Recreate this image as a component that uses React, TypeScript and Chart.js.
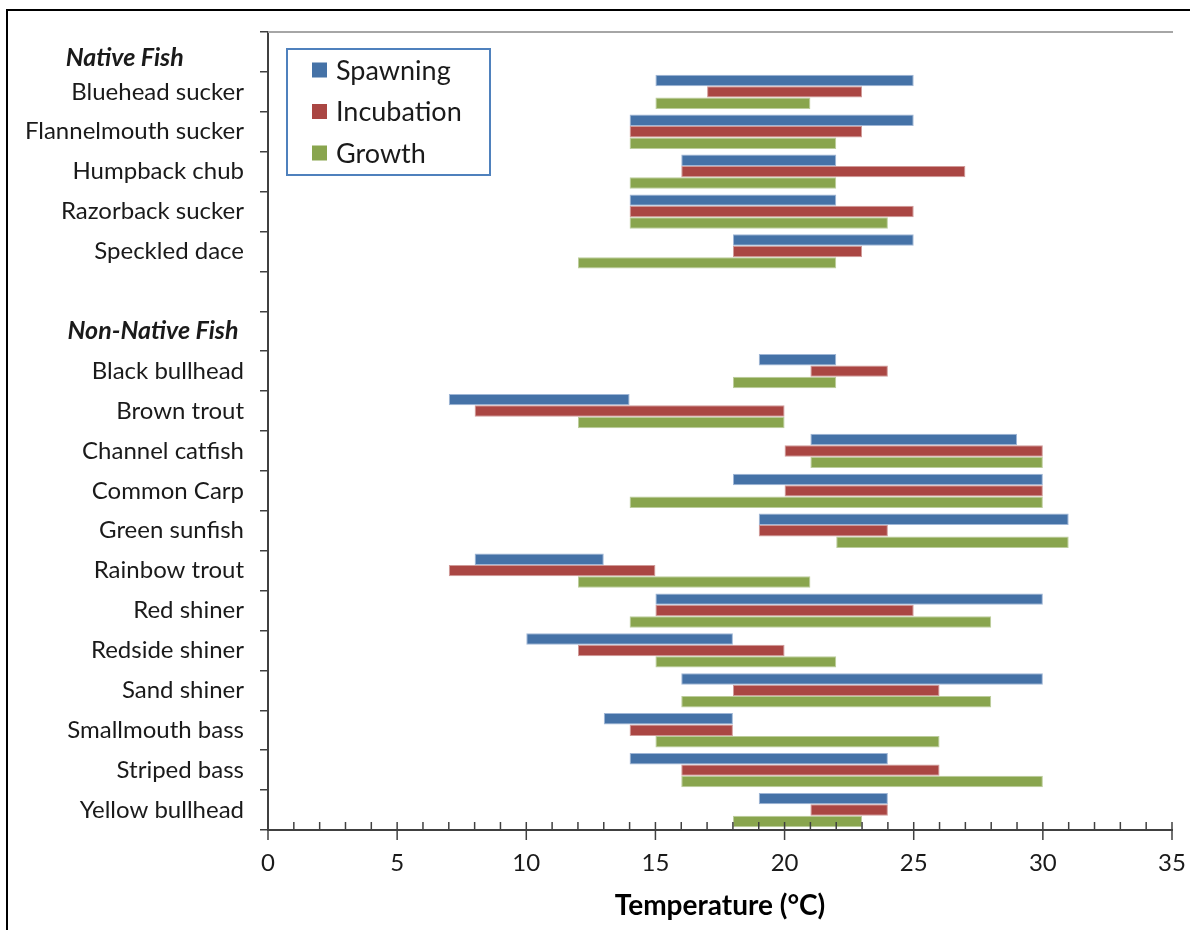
import React, { useEffect, useRef } from 'react';
import { Chart, registerables } from 'chart.js';

Chart.register(...registerables);

type Range = [number, number] | null;

const categories: string[] = [
  'Native Fish',
  'Bluehead sucker',
  'Flannelmouth sucker',
  'Humpback chub',
  'Razorback sucker',
  'Speckled dace',
  '',
  'Non-Native Fish',
  'Black bullhead',
  'Brown trout',
  'Channel catfish',
  'Common Carp',
  'Green sunfish',
  'Rainbow trout',
  'Red shiner',
  'Redside shiner',
  'Sand shiner',
  'Smallmouth bass',
  'Striped bass',
  'Yellow bullhead',
];

const headerRows: string[] = ['Native Fish', 'Non-Native Fish'];

const spawning: Range[] = [
  null, [15, 25], [14, 25], [16, 22], [14, 22], [18, 25], null,
  null, [19, 22], [7, 14], [21, 29], [18, 30], [19, 31], [8, 13], [15, 30], [10, 18], [16, 30], [13, 18], [14, 24], [19, 24],
];
const incubation: Range[] = [
  null, [17, 23], [14, 23], [16, 27], [14, 25], [18, 23], null,
  null, [21, 24], [8, 20], [20, 30], [20, 30], [19, 24], [7, 15], [15, 25], [12, 20], [18, 26], [14, 18], [16, 26], [21, 24],
];
const growth: Range[] = [
  null, [15, 21], [14, 22], [14, 22], [14, 24], [12, 22], null,
  null, [18, 22], [12, 20], [21, 30], [14, 30], [22, 31], [12, 21], [14, 28], [15, 22], [16, 28], [15, 26], [16, 30], [18, 23],
];

const seriesNames: string[] = ['Spawning', 'Incubation', 'Growth'];
const seriesColors: string[] = ['#4572A7', '#AA4643', '#89A54E'];
const seriesBorders: string[] = ['#9fb6d6', '#d09a98', '#bccd9c'];

const xMin = 0;
const xMax = 35;
const xMajorStep = 5;
const xMinorStep = 1;
const xTitle = 'Temperature (°C)';

const FONT = 'Lato';

const decorPlugin = {
  id: 'decor',
  afterDraw(chart: any) {
    const { ctx, chartArea: a, scales } = chart;
    const x = scales.x;
    ctx.save();
    // top plot border
    ctx.strokeStyle = '#a6a6a6';
    ctx.lineWidth = 2;
    ctx.beginPath();
    ctx.moveTo(a.left, a.top);
    ctx.lineTo(a.right + 1, a.top);
    ctx.stroke();
    // x axis line
    ctx.strokeStyle = '#404040';
    ctx.lineWidth = 2;
    ctx.beginPath();
    ctx.moveTo(a.left - 1, a.bottom);
    ctx.lineTo(a.right + 1, a.bottom);
    ctx.stroke();
    // x ticks (minor inside, major crossing)
    ctx.lineWidth = 1.5;
    for (let v = xMin; v <= xMax; v += xMinorStep) {
      const px = x.getPixelForValue(v);
      const major = v % xMajorStep === 0;
      ctx.beginPath();
      ctx.moveTo(px, a.bottom - 8);
      ctx.lineTo(px, a.bottom + (major ? 10 : 0));
      ctx.stroke();
    }
    // legend box
    const bx = a.left + 19;
    const by = a.top + 17;
    const bw = 203;
    const bh = 126;
    ctx.fillStyle = '#ffffff';
    ctx.fillRect(bx, by, bw, bh);
    ctx.strokeStyle = '#4F81BD';
    ctx.lineWidth = 2;
    ctx.strokeRect(bx, by, bw, bh);
    ctx.font = `27px ${FONT}`;
    ctx.textBaseline = 'middle';
    ctx.textAlign = 'left';
    chart.data.datasets.forEach((ds: any, i: number) => {
      const cy = by + 21 + i * 41.5;
      ctx.fillStyle = ds.backgroundColor;
      ctx.fillRect(bx + 25, cy - 7.5, 15, 15);
      ctx.fillStyle = '#1a1a1a';
      ctx.fillText(ds.label, bx + 49, cy + 1);
    });
    ctx.restore();
  },
};

export default function App() {
  const canvasRef = useRef<HTMLCanvasElement | null>(null);

  useEffect(() => {
    let chart: Chart | null = null;
    let cancelled = false;
    const build = () => {
      if (cancelled || !canvasRef.current) return;
      const datasets = [spawning, incubation, growth].map((d, i) => ({
        label: seriesNames[i],
        data: d as any,
        backgroundColor: seriesColors[i],
        borderColor: seriesBorders[i],
        borderWidth: 1,
        borderSkipped: false,
        categoryPercentage: 0.86,
        barPercentage: 1,
      }));
      chart = new Chart(canvasRef.current, {
        type: 'bar',
        data: { labels: categories, datasets },
        plugins: [decorPlugin],
        options: {
          indexAxis: 'y',
          animation: false,
          responsive: false,
          layout: { padding: { left: 0, top: 32, right: 18, bottom: 0 } },
          plugins: { legend: { display: false }, tooltip: { enabled: false } },
          scales: {
            x: {
              type: 'linear',
              min: xMin,
              max: xMax,
              afterFit: (s: any) => {
                s.height = 100;
                s.paddingLeft = 0;
                s.paddingRight = 0;
              },
              grid: { display: false, drawTicks: false },
              border: { display: false },
              ticks: {
                stepSize: xMajorStep,
                padding: 19,
                color: '#1a1a1a',
                font: { family: FONT, size: 24 },
              },
              title: {
                display: true,
                text: xTitle,
                color: '#000000',
                font: { family: FONT, size: 28, weight: 'bold' },
                padding: { top: 0, bottom: 7 },
              },
            },
            y: {
              type: 'category',
              afterFit: (s: any) => {
                s.width = 268;
                s.paddingTop = 0;
                s.paddingBottom = 0;
              },
              grid: {
                display: true,
                drawOnChartArea: false,
                drawTicks: true,
                tickLength: 8,
                offset: true,
                color: '#404040',
                lineWidth: 1.5,
              },
              border: { display: true, color: '#404040', width: 2 },
              ticks: {
                autoSkip: false,
                padding: 16,
                color: '#1a1a1a',
                callback: (_v: any, i: number) => {
                  const lab = categories[i];
                  if (lab === headerRows[0]) return ['', lab + '           '];
                  if (lab === headerRows[1]) return lab + ' ';
                  return lab;
                },
                font: (c: any) => {
                  const lab = categories[c.index];
                  if (lab === headerRows[0]) {
                    return { family: FONT, size: 25, weight: 'bold', style: 'italic', lineHeight: '12px' };
                  }
                  if (lab === headerRows[1]) {
                    return { family: FONT, size: 25, weight: 'bold', style: 'italic' };
                  }
                  return { family: FONT, size: 24 };
                },
              },
            },
          },
        } as any,
      });
    };
    const fontsReady = (document as any).fonts
      ? Promise.all([
          (document as any).fonts.load(`24px ${FONT}`),
          (document as any).fonts.load(`bold 24px ${FONT}`),
          (document as any).fonts.load(`italic bold 24px ${FONT}`),
        ]).catch(() => null)
      : Promise.resolve(null);
    fontsReady.then(build);
    return () => {
      cancelled = true;
      if (chart) chart.destroy();
    };
  }, []);

  return (
    <div style={{ position: 'absolute', left: 0, top: 0, width: 1190, height: 930, background: '#fff', overflow: 'hidden' }}>
      <canvas ref={canvasRef} width={1190} height={930} style={{ position: 'absolute', left: 0, top: 0 }} />
      <div
        style={{
          position: 'absolute',
          left: 6,
          top: 9,
          width: 1190,
          height: 930,
          borderLeft: '2.5px solid #000',
          borderTop: '2.5px solid #000',
          pointerEvents: 'none',
        }}
      />
    </div>
  );
}
